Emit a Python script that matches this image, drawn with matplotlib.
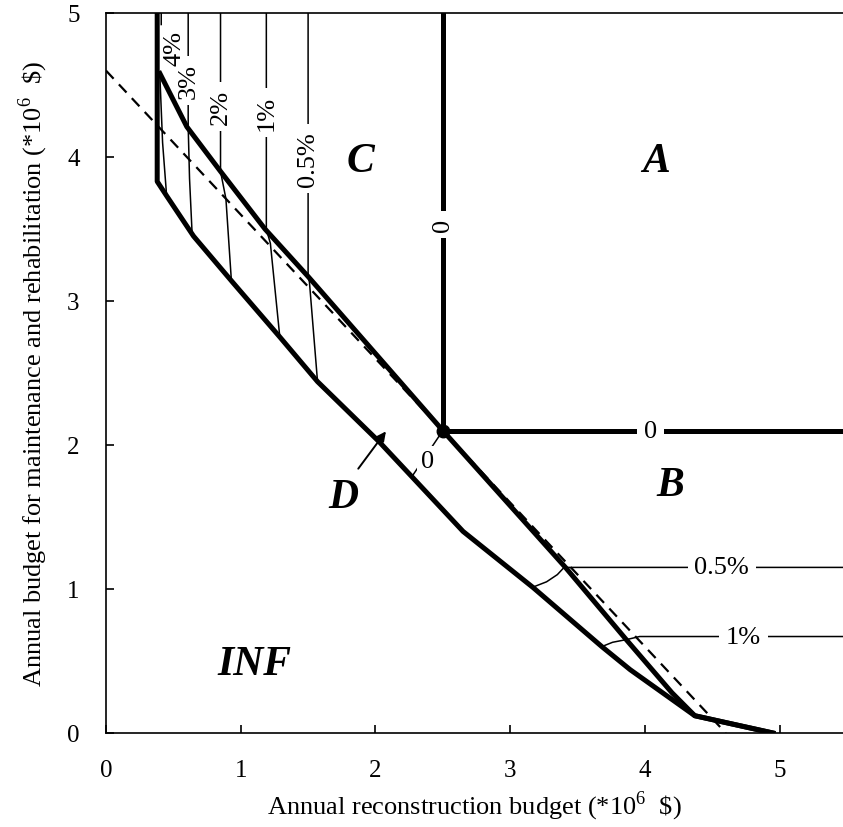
import matplotlib
matplotlib.use("Agg")
import matplotlib.pyplot as plt
import numpy as np

plt.rcParams["font.family"] = ["Liberation Serif", "DejaVu Serif"]
plt.rcParams["mathtext.fontset"] = "custom"
plt.rcParams["mathtext.rm"] = "Liberation Serif"

# --- datos (millones de $) ---
# frontera inferior (límite de la región INF)
lower_x = [0.38, 0.38, 0.45, 0.65, 0.94, 1.29, 1.57, 2.03, 2.65, 3.17, 3.68, 3.89, 4.37, 4.95]
lower_y = [5.00, 3.83, 3.73, 3.45, 3.13, 2.75, 2.44, 2.02, 1.40, 1.01, 0.60, 0.44, 0.12, 0.00]

# frontera superior (pasa por el punto óptimo)
upper_x = [0.40, 0.60, 0.85, 1.18, 1.50, 2.50, 3.41, 3.86, 4.20, 4.37]
upper_y = [4.58, 4.21, 3.90, 3.50, 3.17, 2.10, 1.15, 0.65, 0.28, 0.12]

# recta de presupuesto total constante (discontinua)
dash_x = [0.0, 4.6]
dash_y = [4.6, 0.0]

# punto óptimo y líneas de nivel "0"
opt_x, opt_y = 2.50, 2.10

# isolíneas verticales (zona C): etiqueta, x arriba, tramo bajo la frontera
iso_labels = ["3%", "2%", "1%", "0.5%"]
iso_top_x = [0.61, 0.85, 1.19, 1.50]
iso_low_x = [[0.61, 0.62, 0.64], [0.85, 0.89, 0.93], [1.19, 1.22, 1.29], [1.50, 1.51, 1.57]]
iso_low_y = [[4.21, 3.85, 3.45], [3.90, 3.71, 3.15], [3.50, 3.40, 2.75], [3.17, 3.13, 2.44]]
iso_label_y = [4.53, 4.35, 4.31, 3.99]

# isolínea 4% (casi oculta junto a la vertical)
iso4_x = [0.41, 0.41, np.nan, 0.40, 0.42, 0.45]
iso4_y = [5.00, 4.92, np.nan, 4.56, 4.10, 3.73]

# isolíneas horizontales (zona B)
b_labels = ["0.5%", "1%"]
b_x = [[3.16, 3.27, 3.35, 3.40, 3.44, 5.47], [3.68, 3.76, 3.87, 3.96, 5.47]]
b_y = [[1.01, 1.05, 1.10, 1.15, 1.15, 1.15], [0.60, 0.63, 0.65, 0.67, 0.67]]
b_label_x = [4.57, 4.73]

# isolínea 0 dentro de la franja D
d0_x = [2.50, 2.27]
d0_y = [2.10, 1.78]

XMAX, YMAX = 5.47, 5.0

fig = plt.figure(figsize=(8.43, 8.28), dpi=100)
ax = fig.add_axes([106 / 843, 94 / 828, 737 / 843, 720 / 828])

THICK = 3.6
THIN = 1.1
lbl = dict(fontsize=19, ha="center", va="center", zorder=3,
           bbox=dict(facecolor="white", edgecolor="none", pad=5))

# fronteras
ax.plot(lower_x, lower_y, color="black", lw=THICK, zorder=4, solid_joinstyle="round")
ax.plot(upper_x + [lower_x[-1]], upper_y + [lower_y[-1]], color="black", lw=THICK,
        zorder=4, solid_joinstyle="round")
ax.plot(dash_x, dash_y, color="black", lw=1.6, ls=(0, (5, 3.5)), zorder=3)

# líneas de nivel 0
ax.plot([opt_x, opt_x], [opt_y, YMAX], color="black", lw=THICK, zorder=2)
ax.plot([opt_x, XMAX], [opt_y, opt_y], color="black", lw=THICK, zorder=2)
ax.plot(opt_x, opt_y, "o", color="black", ms=9, zorder=5)
ax.text(opt_x, 3.53, "0", rotation=90, **lbl)
ax.text(4.04, opt_y, "0", **lbl)
ax.plot(d0_x, d0_y, color="black", lw=THIN, zorder=2)
ax.text(2.39, 1.89, "0", **{**lbl, "bbox": dict(facecolor="white", edgecolor="none", pad=3)})

# isolíneas verticales
ax.plot(iso4_x, iso4_y, color="black", lw=THIN, zorder=2)
for lab, xt, xs, ys, yl in zip(iso_labels, iso_top_x, iso_low_x, iso_low_y, iso_label_y):
    ax.plot([xt] + xs, [YMAX] + ys, color="black", lw=THIN, zorder=2)
    ax.text(xt, yl, lab, rotation=90, **lbl)
ax.text(0.51, 4.76, "4%", rotation=90, fontsize=19, ha="center", va="center", zorder=5)

# isolíneas horizontales
for lab, xs, ys, xl in zip(b_labels, b_x, b_y, b_label_x):
    ax.plot(xs, ys, color="black", lw=THIN, zorder=2)
    ax.text(xl, ys[-1], lab, **lbl)

# rótulos de regiones
reg = dict(fontsize=30, fontweight="bold", fontstyle="italic", ha="center", va="center")
ax.text(1.89, 3.97, "C", **reg)
ax.text(4.08, 3.97, "A", **reg)
ax.text(4.19, 1.72, "B", **reg)
ax.text(1.76, 1.64, "D", **reg)
ax.text(1.10, 0.48, "INF", **reg)
ax.annotate("", xy=(2.09, 2.11), xytext=(1.86, 1.82),
            arrowprops=dict(arrowstyle="-|>", color="black", lw=1.4, mutation_scale=14))

ax.set_xlim(0, XMAX)
ax.set_ylim(0, YMAX)
ax.set_xticks([0, 1, 2, 3, 4, 5])
ax.set_yticks([0, 1, 2, 3, 4, 5])
ax.tick_params(direction="in", length=6, width=1.2, labelsize=18, pad=19)
for side in ["left", "bottom", "top"]:
    ax.spines[side].set_linewidth(1.2)
ax.spines["right"].set_visible(False)

ax.set_xlabel("Annual reconstruction budget (*10$^{6}$  \\$)", fontsize=19, labelpad=5)
ax.set_ylabel("Annual budget for maintenance and rehabilitation (*10$^{6}$  \\$)",
              fontsize=19, labelpad=12)

fig.savefig("out.png", dpi=100)
plt.close(fig)
